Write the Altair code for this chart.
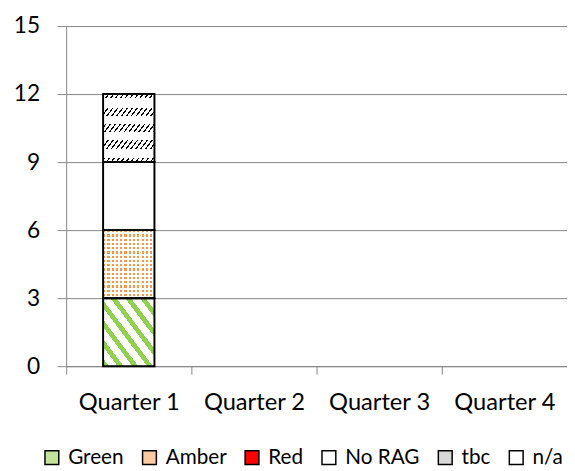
import altair as alt
import pandas as pd

quarters = ["Quarter 1", "Quarter 2", "Quarter 3", "Quarter 4"]
categories = ["Green", "Amber", "Red", "No RAG", "tbc", "n/a"]
q1_values = [3, 3, 0, 3, 0, 3]
q2_values = [0, 0, 0, 0, 0, 0]
q3_values = [0, 0, 0, 0, 0, 0]
q4_values = [0, 0, 0, 0, 0, 0]
y_ticks = [0, 3, 6, 9, 12, 15]

legend_colors = ["#c3e29c", "#fbc8a2", "#ff0000", "#ffffff", "#d9d9d9", "#ffffff"]

rows = []
for q, vals in zip(quarters, [q1_values, q2_values, q3_values, q4_values]):
    acc = 0
    for c, v in zip(categories, vals):
        rows.append({"quarter": q, "category": c, "y0": acc, "y1": acc + v, "value": v})
        acc += v
df = pd.DataFrame(rows)
df = df[df["value"] > 0]

FONT = "Lato"
GRID = "#868686"


def stops(pairs):
    return [alt.GradientStop(color=c, offset=o) for o, c in pairs]


def periodic(n, frac, on, off):
    p = []
    for k in range(n):
        a = k / n
        b = (k + frac) / n
        e = (k + 1) / n
        p += [(a, on), (b, on), (b, off), (e, off)]
    return stops(p)


CLEAR = "rgba(255,255,255,0)"

green_fill = alt.LinearGradient(gradient="linear", x1=0, y1=1, x2=1, y2=0,
                                stops=periodic(7, 0.4, "#92d050", "#ffffff"))
amber_vmask = alt.LinearGradient(gradient="linear", x1=0, y1=0, x2=1, y2=0,
                                 stops=periodic(12, 0.5, CLEAR, "#ffffff"))
amber_hmask = alt.LinearGradient(gradient="linear", x1=0, y1=0, x2=0, y2=1,
                                 stops=periodic(16, 0.5, CLEAR, "#ffffff"))
na_dash = alt.LinearGradient(gradient="linear", x1=0, y1=0, x2=1, y2=1,
                             stops=periodic(21, 0.3, "#000000", CLEAR))
row_centers = [0.03, 0.26, 0.5, 0.74, 0.97]
row_halfw = [0.03, 0.06, 0.06, 0.06, 0.03]
mask_pairs = []
for c, h in zip(row_centers, row_halfw):
    a, b = max(c - h, 0.0), min(c + h, 1.0)
    mask_pairs += [(a, "#ffffff"), (a, CLEAR), (b, CLEAR), (b, "#ffffff")]
na_mask = alt.LinearGradient(gradient="linear", x1=0, y1=0, x2=0, y2=1,
                             stops=stops([(0, "#ffffff")] + mask_pairs + [(1, "#ffffff")]))

x_enc = alt.X("quarter:N", sort=quarters,
              scale=alt.Scale(domain=quarters, paddingInner=0, paddingOuter=0),
              axis=alt.Axis(title=None, labelAngle=0, tickBand="extent", domainColor=GRID,
                            tickColor=GRID, tickSize=8, labelFont=FONT, labelFontSize=24,
                            labelColor="#000000", labelPadding=36, labelBaseline="alphabetic",
                            grid=False))
y_enc = alt.Y("y0:Q", scale=alt.Scale(domain=[0, 15], nice=False),
              axis=alt.Axis(title=None, values=y_ticks, tickSize=9, tickColor=GRID,
                            domainColor=GRID, gridColor=GRID, gridWidth=1, labelFont=FONT,
                            labelFontSize=23, labelColor="#000000", labelPadding=18))
y2_enc = alt.Y2("y1:Q")

bw = {"band": 0.41}
base = alt.Chart(df)

layer_base = base.mark_bar(width=bw, strokeWidth=0).encode(
    x=x_enc, y=y_enc, y2=y2_enc,
    fill=alt.Fill("category:N",
                  scale=alt.Scale(domain=categories, range=legend_colors),
                  legend=alt.Legend(title=None, orient="none", legendX=-25, legendY=427,
                                    direction="horizontal", symbolType="square",
                                    symbolSize=196, symbolStrokeColor="#000000",
                                    symbolStrokeWidth=1.5, labelFont=FONT, labelFontSize=21,
                                    labelColor="#000000", labelOffset=6, columnPadding=15,
                                    padding=0)),
)

layer_green = base.mark_bar(width=bw, fill=green_fill, strokeWidth=0).encode(
    x="quarter:N", y="y0:Q", y2="y1:Q"
).transform_filter(alt.datum.category == "Green")

layer_amber = base.mark_bar(width=bw, fill="#f79646", strokeWidth=0).encode(
    x="quarter:N", y="y0:Q", y2="y1:Q"
).transform_filter(alt.datum.category == "Amber")
layer_amber_v = base.mark_bar(width=bw, fill=amber_vmask, strokeWidth=0).encode(
    x="quarter:N", y="y0:Q", y2="y1:Q"
).transform_filter(alt.datum.category == "Amber")
layer_amber_h = base.mark_bar(width=bw, fill=amber_hmask, strokeWidth=0).encode(
    x="quarter:N", y="y0:Q", y2="y1:Q"
).transform_filter(alt.datum.category == "Amber")

layer_na = base.mark_bar(width=bw, fill="#ffffff", strokeWidth=0).encode(
    x="quarter:N", y="y0:Q", y2="y1:Q"
).transform_filter(alt.datum.category == "n/a")
layer_na_dash = base.mark_bar(width=bw, fill=na_dash, strokeWidth=0).encode(
    x="quarter:N", y="y0:Q", y2="y1:Q"
).transform_filter(alt.datum.category == "n/a")
layer_na_mask = base.mark_bar(width=bw, fill=na_mask, strokeWidth=0).encode(
    x="quarter:N", y="y0:Q", y2="y1:Q"
).transform_filter(alt.datum.category == "n/a")

layer_outline = base.mark_bar(width=bw, fill="transparent", stroke="#000000",
                              strokeWidth=2).encode(x="quarter:N", y="y0:Q", y2="y1:Q")

chart = alt.layer(
    layer_base, layer_green, layer_amber, layer_amber_v, layer_amber_h,
    layer_na, layer_na_dash, layer_na_mask, layer_outline
).properties(
    width=508, height=345, autosize="none",
    padding={"left": 59, "top": 15, "right": 0, "bottom": 103},
    background="#ffffff",
).configure_view(strokeWidth=0)

chart.save("out.html", embed_options={"renderer": "svg", "actions": False})
